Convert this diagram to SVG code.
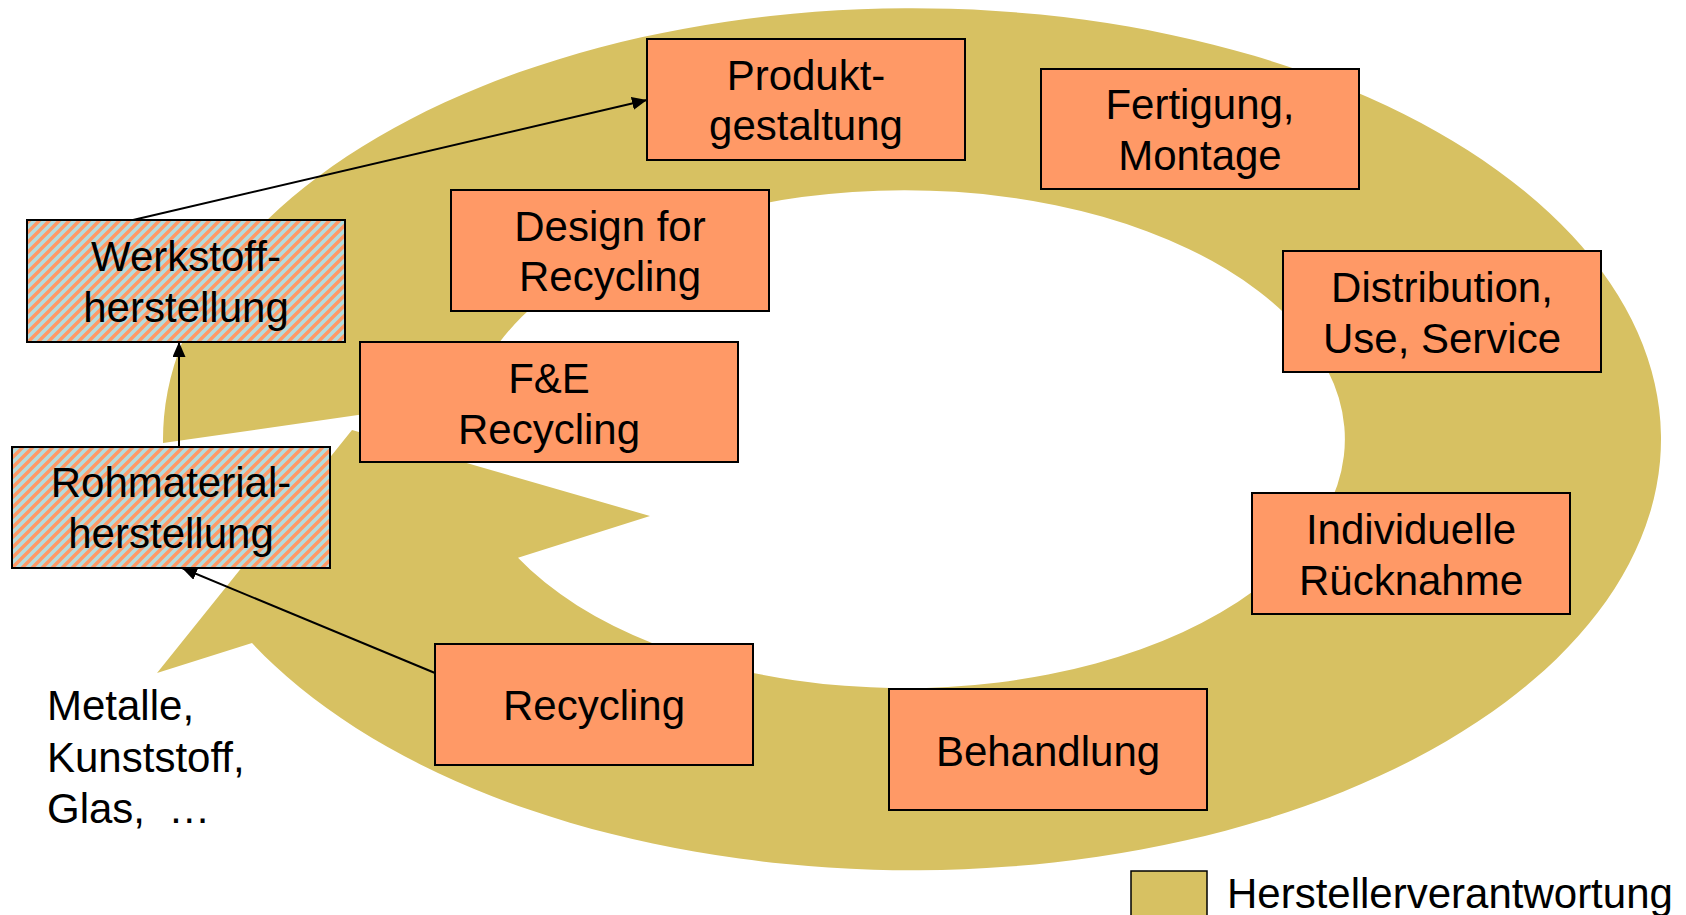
<svg xmlns="http://www.w3.org/2000/svg" width="1686" height="915" viewBox="0 0 1686 915">
  <defs>
    <pattern id="hatch" patternUnits="userSpaceOnUse" width="10" height="10">
      <rect width="10" height="10" fill="#B3DCDD"/>
      <path d="M-2.5,2.5 L2.5,-2.5 M0,10 L10,0 M7.5,12.5 L12.5,7.5" stroke="#FF9966" stroke-width="3.4"/>
    </pattern>
    <marker id="arrL" viewBox="0 0 10 10" refX="10" refY="5" markerWidth="15" markerHeight="13" markerUnits="userSpaceOnUse" orient="auto" preserveAspectRatio="none">
      <path d="M0,0 L10,5 L0,10 Z" fill="#000"/>
    </marker>
  </defs>
  <style>
    .ring { fill: #D7C162; }
    .box rect { fill: #FF9966; stroke: #000; stroke-width: 2; }
    .box.hatched rect { fill: url(#hatch); }
    text { font-family: "Liberation Sans", Arial, Helvetica, sans-serif; font-size: 42px; fill: #000; }
    .box text { text-anchor: middle; }
    .conn line { stroke: #000; stroke-width: 2; fill: none; }
  </style>
  <rect width="1686" height="915" fill="#fff"/>

  <g id="ring">
    <path class="ring" d="M163.03,443 A749,431 0 1 1 252,643 L157,673 L352,430 L650,516 L518,557.8 A440,249 0 1 0 470.7,398.8 Z"/>
  </g>

  <g id="node-produktgestaltung" class="box">
    <rect x="647" y="39" width="318" height="121"/>
    <text x="806" y="90">Produkt-</text>
    <text x="806" y="140">gestaltung</text>
  </g>
  <g id="node-fertigung" class="box">
    <rect x="1041" y="69" width="318" height="120"/>
    <text x="1200" y="119">Fertigung,</text>
    <text x="1200" y="170">Montage</text>
  </g>
  <g id="node-design" class="box">
    <rect x="451" y="190" width="318" height="121"/>
    <text x="610" y="241">Design for</text>
    <text x="610" y="291">Recycling</text>
  </g>
  <g id="node-distribution" class="box">
    <rect x="1283" y="251" width="318" height="121"/>
    <text x="1442" y="302">Distribution,</text>
    <text x="1442" y="353">Use, Service</text>
  </g>
  <g id="node-werkstoff" class="box hatched">
    <rect x="27" y="220" width="318" height="122"/>
    <text x="186" y="271">Werkstoff-</text>
    <text x="186" y="322">herstellung</text>
  </g>
  <g id="node-fe" class="box">
    <rect x="360" y="342" width="378" height="120"/>
    <text x="549" y="393">F&amp;E</text>
    <text x="549" y="444">Recycling</text>
  </g>
  <g id="node-rohmaterial" class="box hatched">
    <rect x="12" y="447" width="318" height="121"/>
    <text x="171" y="497">Rohmaterial-</text>
    <text x="171" y="548">herstellung</text>
  </g>
  <g id="node-ruecknahme" class="box">
    <rect x="1252" y="493" width="318" height="121"/>
    <text x="1411" y="544">Individuelle</text>
    <text x="1411" y="595">Rücknahme</text>
  </g>
  <g id="node-recycling" class="box">
    <rect x="435" y="644" width="318" height="121"/>
    <text x="594" y="720">Recycling</text>
  </g>
  <g id="node-behandlung" class="box">
    <rect x="889" y="689" width="318" height="121"/>
    <text x="1048" y="766">Behandlung</text>
  </g>

  <g id="connectors" class="conn">
    <line x1="133" y1="220" x2="647" y2="100" marker-end="url(#arrL)"/>
    <line x1="179" y1="447" x2="179" y2="342" marker-end="url(#arrL)"/>
    <line x1="435" y1="673" x2="182" y2="568" marker-end="url(#arrL)"/>
  </g>

  <g id="materials">
    <text x="47" y="720">Metalle,</text>
    <text x="47" y="772">Kunststoff,</text>
    <text x="47" y="823" style="white-space:pre">Glas,  …</text>
  </g>

  <g id="legend">
    <rect x="1131" y="871" width="76" height="50" fill="#D7C162" stroke="#000" stroke-width="1.5"/>
    <text x="1227" y="908">Herstellerverantwortung</text>
  </g>
</svg>
